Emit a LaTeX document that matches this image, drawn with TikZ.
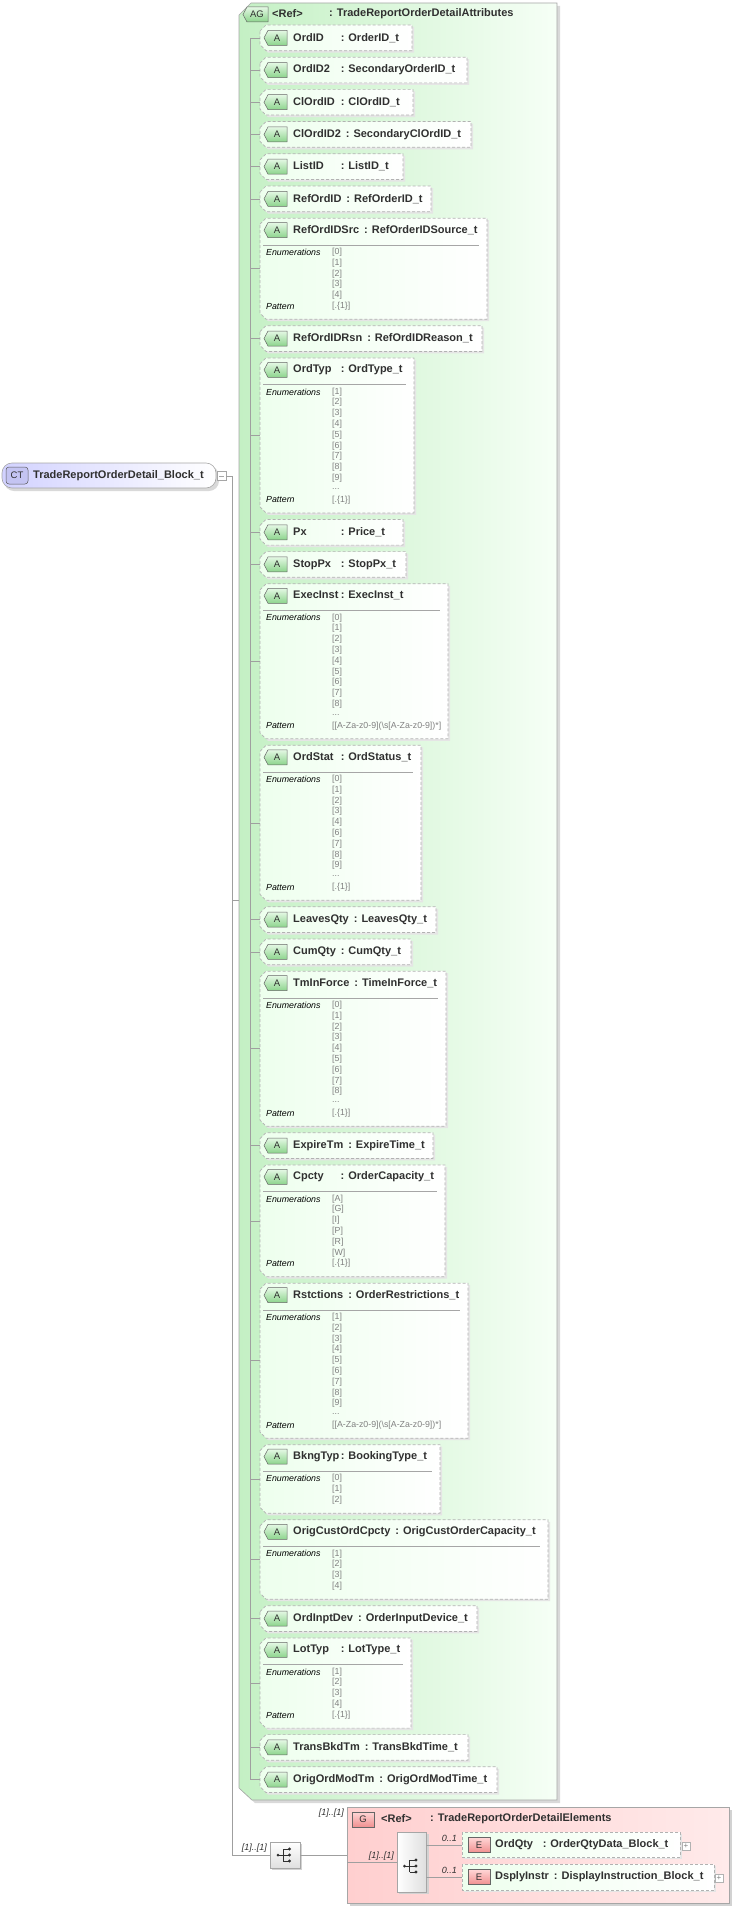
\documentclass[tikz,border=0pt]{standalone}
\usepackage{fontspec}
\setmainfont{Liberation Sans}
\begin{document}
\definecolor{agL}{HTML}{C4F0C4}\definecolor{agR}{HTML}{F6FFF6}
\definecolor{bdT}{HTML}{E4F8E4}\definecolor{bdB}{HTML}{8CD48C}
\definecolor{gL}{HTML}{FFCFCF}\definecolor{gR}{HTML}{FFEAEA}
\definecolor{eT}{HTML}{FFD6D6}\definecolor{eB}{HTML}{F09090}
\definecolor{ctL}{HTML}{D2D2FF}\definecolor{ctB}{HTML}{C4C4F2}
\definecolor{txt}{HTML}{303030}
\tikzset{
 conn/.style={draw=gray!75, line width=0.6pt},
 itembox/.style={draw=gray!60, dash pattern=on 3pt off 2pt, line width=0.7pt, left color=green!7, right color=white},
 shad/.style={fill=gray!20, draw=none},
 hdr/.style={anchor=west, font=\fontsize{11}{12}\selectfont\bfseries, text=txt, inner sep=0},
 enuml/.style={anchor=west, font=\fontsize{8.8}{9}\selectfont\itshape, inner sep=0},
 enumv/.style={anchor=west, font=\fontsize{8.8}{9}\selectfont, text=gray, inner sep=0},
 mult/.style={font=\fontsize{9}{9}\selectfont\itshape, inner sep=0, text=txt},
 badge/.style={font=\fontsize{9.5}{10}\selectfont, text=txt, inner sep=0},
}
\newcount\rowi
\newlength\minname
\newcommand\namefield[1]{\settowidth\minname{\bfseries ClOrdID\hspace{6pt}}\sbox0{#1}\ifdim\wd0<\minname\makebox[\minname][l]{#1}\else\box0\hspace{5pt}\fi}
\newcommand\Abadge[2]{% id, y center
 \path[draw=gray!80!black, top color=bdT, bottom color=bdB, line width=0.5pt]
   (264,#2) -- (268,#2-7.5) -- (287,#2-7.5) -- (287,#2+7.5) -- (268,#2+7.5) -- cycle;
 \node[badge] (#1b) at (277,#2) {A};}
\def\cury{25}
\newcommand\itemS[4]{%
 \pgfmathsetmacro\yt{\cury}\pgfmathsetmacro\yb{\cury+25.7}\pgfmathsetmacro\yc{\cury+12.85}%
 \path[shad] (262,\yt+8) -- (268,\yt+2) -- (#4+2,\yt+2) -- (#4+2,\yb+2) -- (268,\yb+2) -- (262,\yb-4) -- cycle;
 \path[itembox] (260,\yt+6) -- (266,\yt) -- (#4,\yt) -- (#4,\yb) -- (266,\yb) -- (260,\yb-6) -- cycle;
 \coordinate (#1) at (260,\yc); \coordinate (t#1) at (250,\yc);
 \draw[conn] (t#1) -- (#1);
 \Abadge{#1}{\yc}
 \node[hdr] (#1t) at (293,\yc) {\namefield{#2}:\hspace{4pt}#3};
 \pgfmathsetmacro\tmp{\cury+32.2}\xdef\cury{\tmp}}
\makeatletter
\newcommand\itemM[7]{% id name type right n enums pattern
 \pgfmathsetmacro\yt{\cury}\pgfmathsetmacro\yb{\cury+47+(#5-1)*10.8}\pgfmathsetmacro\yc{(\yt+\yb)/2}%
 \pgfmathsetmacro\yh{\cury+12}%
 \path[shad] (262,\yt+8) -- (268,\yt+2) -- (#4+2,\yt+2) -- (#4+2,\yb+2) -- (268,\yb+2) -- (262,\yb-4) -- cycle;
 \path[itembox] (260,\yt+6) -- (266,\yt) -- (#4,\yt) -- (#4,\yb) -- (266,\yb) -- (260,\yb-6) -- cycle;
 \coordinate (#1) at (260,\yc); \coordinate (t#1) at (250,\yc);
 \draw[conn] (t#1) -- (#1);
 \Abadge{#1}{\yh}
 \node[hdr] (#1t) at (293,\yh) {\namefield{#2}:\hspace{4pt}#3};
 \draw[gray!70, line width=0.6pt] (263,\yt+26.7) -- (#4-8,\yt+26.7);
 \node[enuml] (#1e) at (266,\yt+34) {Enumerations};
 \global\rowi=0
 \@for\vv:=#6\do{\node[enumv] at (332,\yt+34+\the\rowi*10.8) {\vv};\global\advance\rowi by 1 }%
 \if\relax\detokenize{#7}\relax\else
   \node[enuml] (#1p) at (266,\yt+34+#5*10.8-10.8) {Pattern};
   \node[enumv] at (332,\yt+34+#5*10.8-10.8) {#7};
 \fi
 \pgfmathsetmacro\tmp{\yb+6.5}\xdef\cury{\tmp}}
\makeatother
\newcommand\seqicon[3]{% name, cx, cy
 \coordinate (#1) at (#2,#3);
 \fill[txt] (#2-7,#3) circle (1.5);
 \draw[txt, line width=0.7pt] (#2-7,#3) -- (#2-2,#3) (#2-2,#3-6) -- (#2-2,#3+6)
   (#2-2,#3-6) -- (#2+4,#3-6) (#2-2,#3) -- (#2+4,#3) (#2-2,#3+6) -- (#2+4,#3+6);
 \fill[txt] (#2+4.5,#3-6) circle (1.7) (#2+4.5,#3) circle (1.7) (#2+4.5,#3+6) circle (1.7);}
\newcommand\pct{[.\{1\}]}
\newcommand\lpat{[[A-Za-z0-9](\textbackslash s[A-Za-z0-9])*]}
\newcommand\dts{...}
\begin{tikzpicture}[x=1pt,y=-1pt]
\useasboundingbox (0,0) rectangle (734,1908);
% AG box
\path[fill=gray!30] (242,18) -- (254,6) -- (560,6) -- (560,1803) -- (255,1803) -- (242,1791) -- cycle;
\path[draw=gray!70, left color=agL, right color=agR, line width=0.6pt] (239,15) -- (251,3) -- (557,3) -- (557,1800) -- (252,1800) -- (239,1788) -- cycle;
\coordinate (agw) at (239,900);
\path[draw=gray!80!black, top color=bdT, bottom color=bdB, line width=0.5pt] (243,14.5) -- (247,7) -- (268,7) -- (268,22) -- (247,22) -- cycle;
\node[badge] (agb) at (257,14.5) {AG};
\node[hdr] (agref) at (272,14) {<Ref>};
\node[hdr] (agtype) at (329,14) {: TradeReportOrderDetailAttributes};
% items
\itemS{OrdID}{OrdID}{OrderID\_t}{412}
\itemS{OrdIDb}{OrdID2}{SecondaryOrderID\_t}{467}
\itemS{ClOrdID}{ClOrdID}{ClOrdID\_t}{413}
\itemS{ClOrdIDb}{ClOrdID2}{SecondaryClOrdID\_t}{471}
\itemS{ListID}{ListID}{ListID\_t}{403}
\itemS{RefOrdID}{RefOrdID}{RefOrderID\_t}{431}
\itemM{RefOrdIDSrc}{RefOrdIDSrc}{RefOrderIDSource\_t}{487}{6}{[0],[1],[2],[3],[4]}{\pct}
\itemS{RefOrdIDRsn}{RefOrdIDRsn}{RefOrdIDReason\_t}{482}
\itemM{OrdTyp}{OrdTyp}{OrdType\_t}{414}{11}{[1],[2],[3],[4],[5],[6],[7],[8],[9],\dts}{\pct}
\itemS{Px}{Px}{Price\_t}{403}
\itemS{StopPx}{StopPx}{StopPx\_t}{406}
\itemM{ExecInst}{ExecInst}{ExecInst\_t}{448}{11}{[0],[1],[2],[3],[4],[5],[6],[7],[8],\dts}{\lpat}
\itemM{OrdStat}{OrdStat}{OrdStatus\_t}{421}{11}{[0],[1],[2],[3],[4],[6],[7],[8],[9],\dts}{\pct}
\itemS{LeavesQty}{LeavesQty}{LeavesQty\_t}{436}
\itemS{CumQty}{CumQty}{CumQty\_t}{411}
\itemM{TmInForce}{TmInForce}{TimeInForce\_t}{446}{11}{[0],[1],[2],[3],[4],[5],[6],[7],[8],\dts}{\pct}
\itemS{ExpireTm}{ExpireTm}{ExpireTime\_t}{433}
\itemM{Cpcty}{Cpcty}{OrderCapacity\_t}{445}{7}{[A],[G],[I],[P],[R],[W]}{\pct}
\itemM{Rstctions}{Rstctions}{OrderRestrictions\_t}{468}{11}{[1],[2],[3],[4],[5],[6],[7],[8],[9],\dts}{\lpat}
\itemM{BkngTyp}{BkngTyp}{BookingType\_t}{440}{3}{[0],[1],[2]}{}
\itemM{OrigCust}{OrigCustOrdCpcty}{OrigCustOrderCapacity\_t}{548}{4}{[1],[2],[3],[4]}{}
\itemS{OrdInptDev}{OrdInptDev}{OrderInputDevice\_t}{477}
\itemM{LotTyp}{LotTyp}{LotType\_t}{411}{5}{[1],[2],[3],[4]}{\pct}
\itemS{TransBkdTm}{TransBkdTm}{TransBkdTime\_t}{468}
\itemS{OrigOrdModTm}{OrigOrdModTm}{OrigOrdModTime\_t}{497}
\draw[conn] (tOrdID) -- (tOrigOrdModTm);
% CT node
\path[fill=gray!30, rounded corners=10pt] (4,466) rectangle (219,491);
\path[draw=gray!70, left color=ctL, right color=white, rounded corners=10pt, line width=0.6pt] (2,463) rectangle (216,488);
\path[draw=gray!70!black, fill=ctB, rounded corners=3pt, line width=0.5pt] (6,467) rectangle (28,484);
\node[badge] (ctb) at (17,475.5) {CT};
\node[hdr] (ct) at (33,475.5) {TradeReportOrderDetail\_Block\_t};
\node[draw=gray!70, fill=white, minimum width=9pt, minimum height=9pt, inner sep=0, line width=0.5pt] (ctm) at (221.5,476) {};
\draw[gray!70, line width=0.5pt] (219,476) -- (224,476);
\coordinate (j1) at (232,476); \coordinate (j2) at (232,1855); \coordinate (j3) at (232,900);
\draw[conn] (ctm.east) -- (j1) -- (j2);
\draw[conn] (j3) -- (agw);
% sequence outer
\path[fill=gray!35] (272,1844) rectangle (302,1870);
\node[draw=gray!70, top color=white, bottom color=gray!25, minimum width=30pt, minimum height=26pt, inner sep=0] (seq1) at (285,1855) {};
\seqicon{seq1i}{285}{1855}
\draw[conn] (j2) -- (seq1.west);
\node[mult, anchor=east] (m1) at (267,1848) {[1]..[1]};
% G box
\path[fill=gray!35] (350,1810) rectangle (732,1906);
\path[draw=gray!70, left color=gL, right color=gR, line width=0.6pt] (347,1807) rectangle (729,1903);
\coordinate (gw) at (347,1855); \coordinate (gw2) at (347,1862);
\draw[conn] (seq1.east) -- (gw);
\node[mult, anchor=east] (m2) at (344,1813) {[1]..[1]};
\path[draw=gray!80!black, top color=eT, bottom color=eB, line width=0.5pt] (352,1812) rectangle (374,1827);
\node[badge] (gb) at (363,1819.5) {G};
\node[hdr] (gref) at (381,1819) {<Ref>};
\node[hdr] (gtype) at (430,1819) {: TradeReportOrderDetailElements};
% sequence inner
\path[fill=gray!35] (399,1834) rectangle (429,1894);
\node[draw=gray!70, left color=white, right color=gray!25, minimum width=29pt, minimum height=60pt, inner sep=0] (seq2) at (411.5,1862) {};
\seqicon{seq2i}{411.5}{1866}
\draw[conn] (gw2) -- (seq2.west);
\node[mult, anchor=east] (m3) at (394,1856) {[1]..[1]};
% elements
\coordinate (b1) at (426,1845); \coordinate (b2) at (426,1877);
\path[shad] (464,1834) rectangle (682,1859);
\path[itembox] (462,1832) rectangle (680,1857);
\coordinate (e1) at (462,1845);
\draw[conn] (b1) -- (e1);
\node[mult, anchor=east] (m4) at (457,1838) {0..1};
\path[draw=gray!80!black, top color=eT, bottom color=eB, line width=0.5pt] (468,1837.5) rectangle (490,1852.5);
\node[badge] (e1b) at (479,1845) {E};
\node[hdr] (e1t) at (495,1845) {\namefield{OrdQty}:\hspace{4pt}OrderQtyData\_Block\_t};
\node[draw=gray!60, fill=white, minimum width=8pt, minimum height=8pt, inner sep=0, font=\fontsize{8}{8}\selectfont, text=gray] (p1) at (686,1846) {+};
\path[shad] (464,1866) rectangle (716,1892);
\path[itembox] (462,1864) rectangle (714,1890);
\coordinate (e2) at (462,1877);
\draw[conn] (b2) -- (e2);
\node[mult, anchor=east] (m5) at (457,1870) {0..1};
\path[draw=gray!80!black, top color=eT, bottom color=eB, line width=0.5pt] (468,1869.5) rectangle (490,1884.5);
\node[badge] (e2b) at (479,1877) {E};
\node[hdr] (e2t) at (495,1877) {\namefield{DsplyInstr}:\hspace{4pt}DisplayInstruction\_Block\_t};
\node[draw=gray!60, fill=white, minimum width=8pt, minimum height=8pt, inner sep=0, font=\fontsize{8}{8}\selectfont, text=gray] (p2) at (719,1878) {+};
\end{tikzpicture}
\end{document}
